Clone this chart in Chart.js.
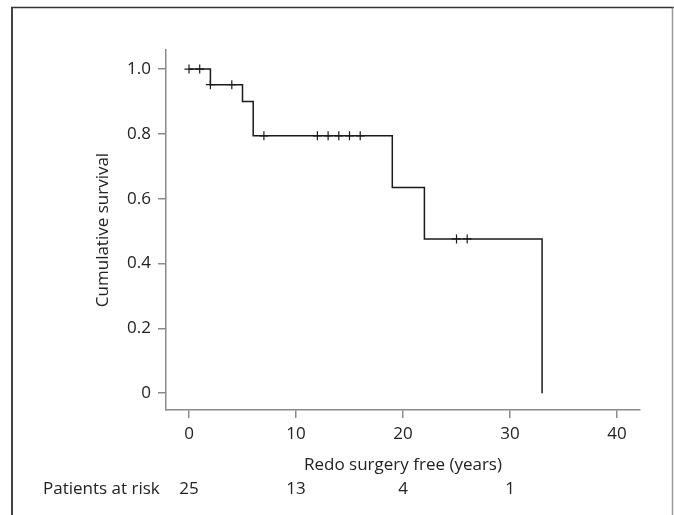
<!DOCTYPE html>
<html>
<head>
<meta charset="utf-8">
<script src="https://cdn.jsdelivr.net/npm/chart.js@4/dist/chart.umd.min.js"></script>
<style>
  body { margin: 0; background: #fff; }
  #wrap { width: 674px; height: 515px; }
</style>
</head>
<body>
<div id="wrap"><canvas id="km" width="674" height="515"></canvas></div>
<script>
// Kaplan-Meier steps (time in years, cumulative survival)
const kmTimes = [0, 2, 5, 6, 19, 22, 33];
const kmSurvival = [1.0, 0.952, 0.9, 0.794, 0.635, 0.476, 0.0];

// Censored observations
const censorTimes = [0, 1, 2, 4, 7, 12, 13, 14, 15, 16, 25, 26];
const censorSurvival = [1.0, 1.0, 0.952, 0.952, 0.794, 0.794, 0.794, 0.794, 0.794, 0.794, 0.476, 0.476];

// Axis ticks
const xTicks = [0, 10, 20, 30, 40];
const yTicks = [0, 0.2, 0.4, 0.6, 0.8, 1.0];

// Patients at risk row
const atRiskTimes = [0, 10, 20, 30];
const atRiskCounts = [25, 13, 4, 1];

const FONT = "'Open Sans', 'Noto Sans', sans-serif";
const axisColor = '#8a8a8a';
const textColor = '#222';

// Frame and at-risk row
const extrasPlugin = {
    id: 'extras',
    afterDraw(chart) {
        const ctx = chart.ctx;
        const xScale = chart.scales.x;
        ctx.save();

        // outer frame (open at the bottom)
        ctx.strokeStyle = '#444';
        ctx.lineWidth = 2;
        ctx.beginPath();
        ctx.moveTo(12, 515);
        ctx.lineTo(12, 7.5);
        ctx.stroke();
        ctx.strokeStyle = '#333';
        ctx.lineWidth = 1.5;
        ctx.beginPath();
        ctx.moveTo(11, 7.5);
        ctx.lineTo(674, 7.5);
        ctx.stroke();
        ctx.strokeStyle = '#999';
        ctx.lineWidth = 1.5;
        ctx.beginPath();
        ctx.moveTo(672.5, 7.5);
        ctx.lineTo(672.5, 515);
        ctx.stroke();

        // patients at risk
        ctx.fillStyle = textColor;
        ctx.font = '17px ' + FONT;
        ctx.textBaseline = 'middle';
        ctx.textAlign = 'left';
        ctx.fillText('Patients at risk', 43, 489);
        ctx.textAlign = 'center';
        atRiskTimes.forEach((t, i) => {
            ctx.fillText(String(atRiskCounts[i]), xScale.getPixelForValue(t), 489);
        });
        ctx.restore();
    }
};

const ctx = document.getElementById('km').getContext('2d');
new Chart(ctx, {
    type: 'scatter',
    data: {
        datasets: [
            {
                label: 'Survival',
                data: kmTimes.map((t, i) => ({ x: t, y: kmSurvival[i] })),
                showLine: true,
                stepped: true,
                borderColor: '#1a1a1a',
                borderWidth: 1.5,
                pointRadius: 0,
                fill: false
            },
            {
                label: 'Censored',
                data: censorTimes.map((t, i) => ({ x: t, y: censorSurvival[i] })),
                showLine: false,
                pointStyle: 'cross',
                pointRadius: 4.5,
                borderColor: '#1a1a1a',
                borderWidth: 1.2
            }
        ]
    },
    options: {
        responsive: false,
        animation: false,
        events: [],
        layout: {
            padding: { top: 50, right: 34, left: 0, bottom: 0 }
        },
        plugins: {
            legend: { display: false },
            tooltip: { enabled: false }
        },
        scales: {
            x: {
                type: 'linear',
                min: -2.15,
                max: 42.15,
                afterFit: scale => { scale.height = 105; },
                afterBuildTicks: scale => { scale.ticks = xTicks.map(v => ({ value: v })); },
                grid: { drawOnChartArea: false, tickLength: 8, color: axisColor, lineWidth: 1.5 },
                border: { color: axisColor, width: 1.5 },
                ticks: {
                    color: textColor,
                    font: { family: FONT, size: 17 },
                    padding: 6,
                    maxRotation: 0
                },
                title: {
                    display: true,
                    text: 'Redo surgery free (years)',
                    color: textColor,
                    font: { family: FONT, size: 17 },
                    padding: { top: 0, bottom: 40 }
                }
            },
            y: {
                type: 'linear',
                min: -0.052,
                max: 1.059,
                afterFit: scale => { scale.width = 166; },
                afterBuildTicks: scale => { scale.ticks = yTicks.map(v => ({ value: v })); },
                grid: { drawOnChartArea: false, tickLength: 8, color: axisColor, lineWidth: 1.5 },
                border: { color: axisColor, width: 1.5 },
                ticks: {
                    color: textColor,
                    font: { family: FONT, size: 17 },
                    padding: 7,
                    callback: v => v === 0 ? '0' : v.toFixed(1)
                },
                title: {
                    display: true,
                    text: 'Cumulative survival',
                    color: textColor,
                    font: { family: FONT, size: 17 },
                    padding: { top: 93, bottom: 0 }
                }
            }
        }
    },
    plugins: [extrasPlugin]
});
</script>
</body>
</html>
